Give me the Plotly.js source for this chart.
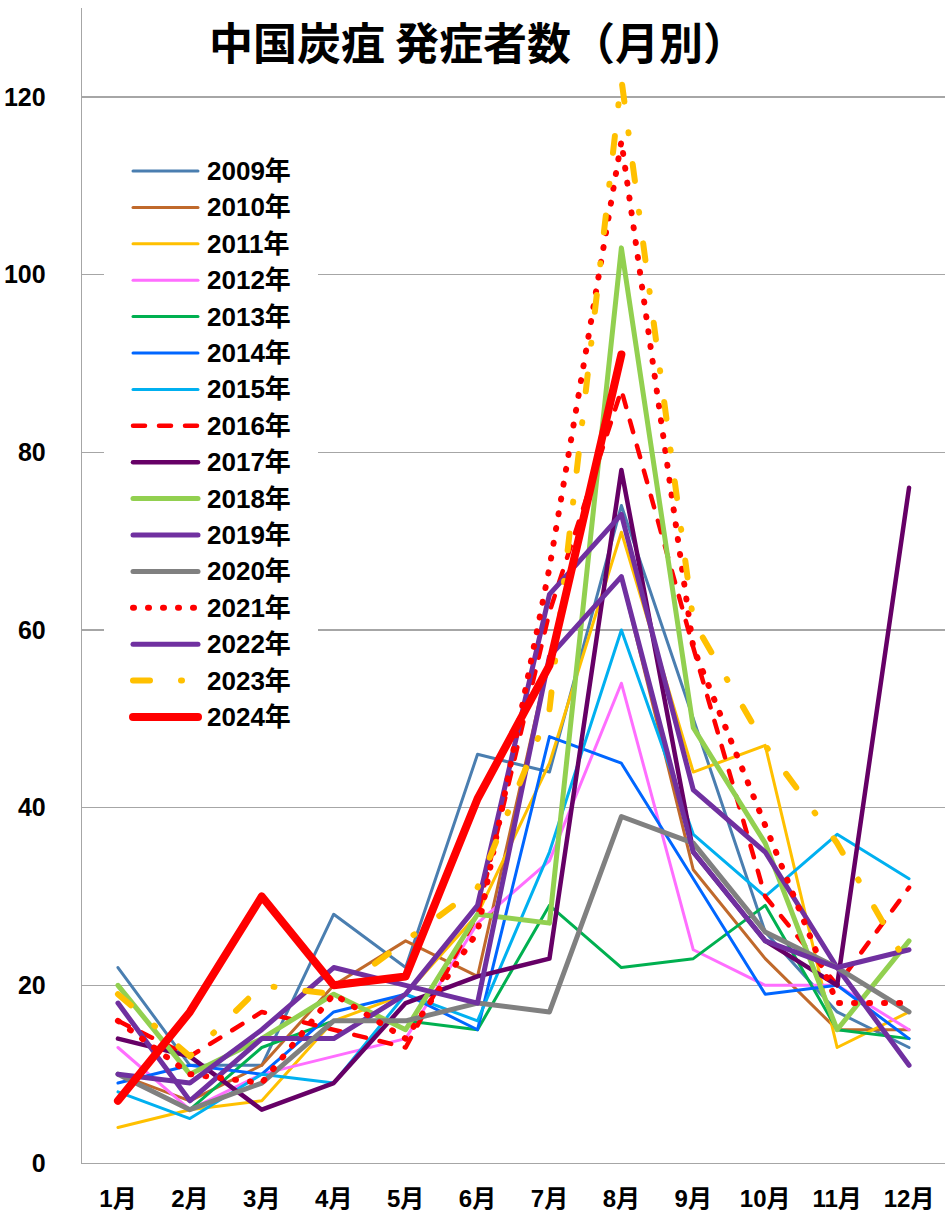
<!DOCTYPE html>
<html>
<head>
<meta charset="utf-8">
<script src="https://cdn.plot.ly/plotly-3.0.1.min.js"></script>
<style>
  html, body { margin: 0; padding: 0; background: #fff; }
  #chart { width: 945px; height: 1218px; }
  .scatterlayer .js-line { stroke-linecap: round !important; stroke-linejoin: round !important; }
</style>
</head>
<body>
<div id="chart"></div>
<script>
// ---- data ----
const months = ['1月','2月','3月','4月','5月','6月','7月','8月','9月','10月','11月','12月'];
const years  = ['2009年','2010年','2011年','2012年','2013年','2014年','2015年','2016年',
                '2017年','2018年','2019年','2020年','2021年','2022年','2023年','2024年'];
const y2009 = [22, 11, 11, 28, 22, 46, 44, 74, 50, 26, 17, 13];
const y2010 = [10,  7, 11, 20, 25, 21, 57, 66, 33, 23, 15, 15];
const y2011 = [ 4,  6,  7, 16, 19, 28, 45, 71, 44, 47, 13, 17];
const y2012 = [13,  6, 10, 12, 14, 27, 34, 54, 24, 20, 20, 15];
const y2013 = [10,  6, 13, 16, 16, 15, 29, 22, 23, 29, 15, 14];
const y2014 = [ 9, 11, 10, 17, 19, 15, 48, 45, 32, 19, 20, 14];
const y2015 = [ 8,  5, 10,  9, 19, 16, 35, 60, 37, 30, 37, 32];
const y2016 = [16, 12, 17, 15, 13, 28, 62, 87, 58, 30, 20, 31];
const y2017 = [14, 12,  6,  9, 18, 21, 23, 78, 35, 25, 20, 76];
const y2018 = [20, 10, 14, 19, 15, 28, 27, 103, 49, 36, 15, 25];
const y2019 = [18,  7, 14, 14, 19, 29, 64, 73, 42, 35, 22, 11];
const y2020 = [10,  6,  9, 16, 16, 18, 17, 39, 36, 26, 22, 17];
const y2021 = [16, 10,  9, 19, 14, 26, 67, 115, 58, 38, 18, 18];
const y2022 = [10,  9, 15, 22, 20, 18, 57, 66, 35, 25, 22, 24];
const y2023 = [19, 12, 20, 19, 25, 31, 51, 122, 61, 47, 36, 22];
const y2024 = [ 7, 17, 30, 20, 21, 41, 56, 91];
const seriesValues = [y2009,y2010,y2011,y2012,y2013,y2014,y2015,y2016,
                      y2017,y2018,y2019,y2020,y2021,y2022,y2023,y2024];

// ---- styles ----
const colors = ['#4A7EB0','#C0692B','#FFC000','#FF6EFF','#00B050','#0066FF','#00B0F0','#FF0000',
                '#660066','#92D050','#7030A0','#808080','#FF0000','#7030A0','#FFC000','#FF0000'];
const widths = [3, 3, 3, 3, 3, 3, 3, 4.5, 4.5, 5, 5, 5, 6, 5, 6, 8];
const dashes = ['solid','solid','solid','solid','solid','solid','solid','12px,14px',
                'solid','solid','solid','solid','1px,14px','solid','17px,31px,1px,31px','solid'];

const traces = years.map((name, i) => ({
  type: 'scatter', mode: 'lines', name: name,
  x: months.slice(0, seriesValues[i].length),
  y: seriesValues[i],
  line: {color: colors[i], width: widths[i], dash: dashes[i], shape: 'linear'},
  hoverinfo: 'x+y+name', showlegend: false
}));

// ---- custom legend (layout shapes + text) ----
const plotL = 82, plotW = 863, plotT = 8, plotH = 1155;
const px2x = p => (p - plotL) / plotW;
const py2y = p => (plotT + plotH - p) / plotH;
const shapes = [{
  type: 'rect', xref: 'paper', yref: 'paper',
  x0: px2x(104), x1: px2x(318), y0: py2y(738), y1: py2y(148),
  fillcolor: '#ffffff', line: {width: 0}, layer: 'above'
}];
const annotations = [];
const tickFont = '"Liberation Sans", "Noto Sans CJK JP", Arial, sans-serif';
years.forEach((name, i) => {
  const yp = 171 + i * 36.4;
  shapes.push({
    type: 'line', xref: 'paper', yref: 'paper', layer: 'above',
    x0: px2x(133), x1: px2x(198), y0: py2y(yp), y1: py2y(yp),
    line: {color: colors[i], width: widths[i], dash: dashes[i]}
  });
  annotations.push({
    xref: 'paper', yref: 'paper', x: px2x(205), y: py2y(yp),
    xanchor: 'left', yanchor: 'middle', showarrow: false, text: name,
    font: {family: tickFont, size: 26, weight: 'bold', color: '#000'}
  });
});

const layout = {
  width: 945, height: 1218,
  margin: {l: plotL, r: 0, t: plotT, b: 1218 - plotT - plotH},
  paper_bgcolor: '#ffffff', plot_bgcolor: '#ffffff',
  showlegend: false,
  title: {
    text: '中国炭疽 発症者数（月別）',
    font: {family: '"Noto Sans CJK JP", sans-serif', size: 44, weight: 'bold', color: '#000'},
    xref: 'container', yref: 'container',
    x: 478 / 945, xanchor: 'center', y: 1 - 45 / 1218, yanchor: 'middle'
  },
  xaxis: {
    type: 'category', categoryorder: 'array', categoryarray: months,
    range: [-0.5, 11.5], showgrid: false, zeroline: false,
    showline: true, linecolor: '#A6A6A6', linewidth: 1.3,
    ticks: '', ticklabelstandoff: 14,
    tickfont: {family: tickFont, size: 24, weight: 'bold', color: '#000'}
  },
  yaxis: {
    range: [0, 130], tick0: 0, dtick: 20, showgrid: true,
    gridcolor: '#A6A6A6', gridwidth: 1.3, zeroline: false,
    showline: true, linecolor: '#A6A6A6', linewidth: 1.3,
    ticks: '', ticklabelstandoff: 30,
    tickfont: {family: tickFont, size: 25, weight: 'bold', color: '#000'}
  },
  shapes: shapes,
  annotations: annotations
};

Plotly.newPlot('chart', traces, layout, {displayModeBar: false, staticPlot: true}).then(() => {
  // round caps for legend sample lines (drawn as shapes)
  document.querySelectorAll('.shapelayer path').forEach((p, idx) => {
    if (idx > 0) { p.style.strokeLinecap = 'round'; p.style.strokeLinejoin = 'round'; }
  });
});
</script>
</body>
</html>
